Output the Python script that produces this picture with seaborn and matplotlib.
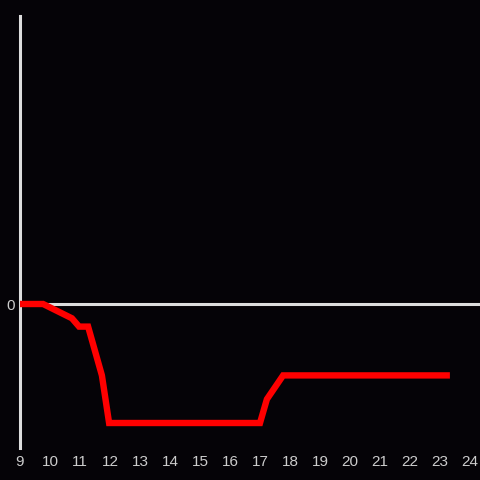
import matplotlib
matplotlib.use("Agg")
import matplotlib.pyplot as plt
import seaborn as sns
import pandas as pd

hours = [9.0, 9.77, 10.73, 10.97, 11.27, 11.73, 11.97, 17.0, 17.23, 17.77, 23.33]
values = [0.0, 0.0, -0.12, -0.19, -0.19, -0.6, -1.0, -1.0, -0.8, -0.6, -0.6]
x_ticks = list(range(9, 25))

df = pd.DataFrame({"hour": hours, "value": values})

sns.set_theme(style="dark")
plt.rcParams['font.family'] = ['Liberation Sans', 'DejaVu Sans']

bg = "#050307"
fig = plt.figure(figsize=(4.8, 4.8), dpi=100, facecolor=bg)
ax = fig.add_axes([20/480, 32/480, 460/480, 432/480])
ax.set_facecolor(bg)

ax.axhline(0, color="#dddddd", lw=2.2, zorder=1)
sns.lineplot(data=df, x="hour", y="value", ax=ax, color="#ff0000", lw=4.6,
             sort=False, zorder=3, solid_joinstyle="miter", solid_capstyle="butt")

ax.set_xlim(9, 9 + 460/30)
ax.set_ylim(-144/119, 288/119)
ax.set_xticks(x_ticks)
ax.set_xticklabels([str(t) for t in x_ticks])
ax.set_yticks([0])
ax.set_yticklabels(["0"])
ax.tick_params(axis="both", length=0, colors="#cccccc", labelsize=11)
ax.tick_params(axis="x", pad=5)
ax.tick_params(axis="y", pad=4)
ax.grid(False)
ax.set_xlabel("")
ax.set_ylabel("")
for s in ["top", "right", "bottom"]:
    ax.spines[s].set_visible(False)
ax.spines["left"].set_color("#dddddd")
ax.spines["left"].set_linewidth(2.2)
ax.spines["left"].set_zorder(2)

fig.savefig("out.png", dpi=100, facecolor=bg)
